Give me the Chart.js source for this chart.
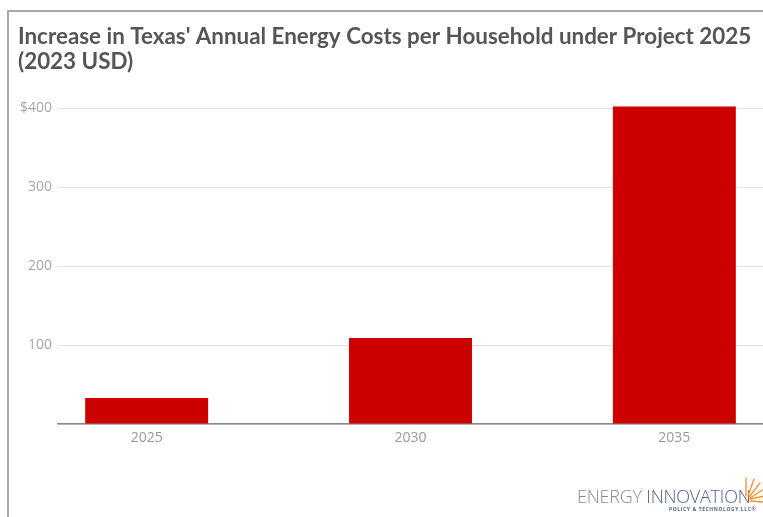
<!DOCTYPE html>
<html>
<head>
<meta charset="utf-8">
<script src="https://cdn.jsdelivr.net/npm/chart.js@4"></script>
<style>
  html, body { margin: 0; padding: 0; background: #fff; }
  body { width: 763px; height: 517px; position: relative; overflow: hidden; }
  #frame { position: absolute; left: 7px; top: 10px; width: 770px; height: 520px;
           border-top: 2px solid #a8a8a8; border-left: 2px solid #a8a8a8; box-sizing: border-box; }
  #wrap { position: absolute; left: 0; top: 0; width: 763px; height: 517px; }
  #logo { position: absolute; left: 577px; top: 486px; font-family: "Open Sans", sans-serif;
          font-size: 18px; font-weight: 300; letter-spacing: -0.2px; white-space: nowrap; line-height: 20px; }
  #logo .e { color: #8c8c8c; }
  #logo .i { color: #4f5f8f; }
  #logo .sub { position: absolute; left: 92px; top: 20px; font-size: 5px; font-weight: 700;
               color: #4f5f8f; letter-spacing: 0.6px; line-height: 6px; }
  #sun { position: absolute; left: 736px; top: 474px; }
</style>
</head>
<body>
<div id="frame"></div>
<div id="wrap"><canvas id="c" width="763" height="517"></canvas></div>
<div id="logo"><span class="e">ENERGY </span><span class="i">INNOVATION</span><div class="sub">POLICY &amp; TECHNOLOGY LLC®</div></div>
<svg id="sun" width="32" height="30" viewBox="0 0 32 30">
  <g stroke="#f0922e" stroke-width="1.3" stroke-linecap="round">
    <line x1="10" y1="22" x2="10" y2="4"/>
    <line x1="12" y1="22" x2="18" y2="5"/>
    <line x1="13" y1="23" x2="24" y2="9"/>
    <line x1="14" y1="24" x2="28" y2="15"/>
    <line x1="14" y1="25" x2="29" y2="22"/>
    <line x1="14" y1="27" x2="27" y2="28"/>
  </g>
</svg>
<script>
const years = [2025, 2030, 2035];
const costIncrease = [33, 109, 402];
const yTicks = [100, 200, 300, 400];
const chartTitle = ["Increase in Texas' Annual Energy Costs per Household under Project 2025", "(2023 USD)"];

new Chart(document.getElementById('c'), {
  type: 'bar',
  data: {
    datasets: [{
      label: 'Increase',
      data: years.map((y, i) => ({ x: y, y: costIncrease[i] })),
      backgroundColor: '#cc0000',
      borderWidth: 0,
      categoryPercentage: 1,
      barPercentage: 0.466
    }]
  },
  options: {
    responsive: false,
    animation: false,
    devicePixelRatio: 1,
    layout: { padding: { left: 18, right: 0, top: 24, bottom: 63 } },
    plugins: {
      legend: { display: false },
      tooltip: { enabled: false },
      title: {
        display: true,
        text: chartTitle,
        align: 'start',
        color: '#555555',
        font: { family: 'Lato', size: 22.4, weight: 'bold', lineHeight: 1.12 },
        padding: { top: 0, bottom: 26 }
      }
    },
    scales: {
      x: {
        type: 'linear',
        offset: false,
        min: 2023.32,
        max: 2036.68,
        afterBuildTicks: s => { s.ticks = years.map(v => ({ value: v })); },
        afterFit: s => { s.height = 30; },
        grid: { display: false, drawTicks: false },
        border: { display: true, color: '#888888', width: 1.5 },
        ticks: {
          callback: v => String(v),
          color: '#999999',
          font: { family: 'Open Sans', size: 14 },
          padding: 6,
          maxRotation: 0
        }
      },
      y: {
        min: 0,
        max: 410,
        afterBuildTicks: s => { s.ticks = [0].concat(yTicks).map(v => ({ value: v })); },
        afterFit: s => { s.width = 40; },
        grid: { color: '#e3e3e3', lineWidth: 1, drawTicks: false },
        border: { display: false },
        ticks: {
          callback: v => v === 0 ? '' : (v === yTicks[yTicks.length - 1] ? '$' + v : String(v)),
          color: '#a6a6a6',
          font: { family: 'Open Sans', size: 14 },
          padding: 6
        }
      }
    }
  }
});
</script>
</body>
</html>
